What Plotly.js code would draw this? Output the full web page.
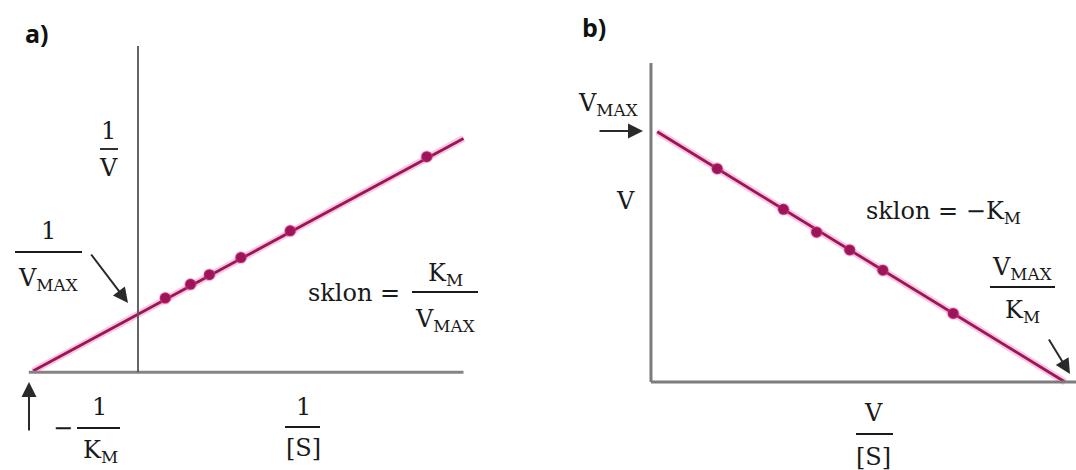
<!DOCTYPE html>
<html>
<head>
<meta charset="utf-8">
<script src="https://cdn.plot.ly/plotly-3.0.1.min.js"></script>
<style>
  html, body { margin: 0; padding: 0; background: #ffffff; }
  #chart { width: 1076px; height: 470px; }
</style>
</head>
<body>
<div id="chart"></div>
<script>
// a) Lineweaver–Burk plot: 1/V against 1/[S]
const lbInvS = [0.26, 0.50, 0.68, 0.98, 1.45, 2.75];
const lbInvV = [1.28, 1.52, 1.69, 1.99, 2.46, 3.76];
const lbFitX = [-1, 3.1];
const lbFitY = [0, 4.08];

// b) Eadie–Hofstee plot: V against V/[S]
const ehVoverS = [0.16, 0.32, 0.40, 0.48, 0.56, 0.73];
const ehV = [0.84, 0.68, 0.59, 0.52, 0.44, 0.27];
const ehFitX = [0.015, 1.0];
const ehFitY = [0.985, 0.0];

const W = 1076, H = 470;
const px = x => x / W;
const py = y => 1 - y / H;

const lineColor = '#9c1558';
const glowColor = 'rgba(236, 70, 160, 0.3)';
const serif = 'DejaVu Serif, Liberation Serif, serif';
const txt = '#1a1a1a';

function fitTraces(x, y, xa, ya) {
  return [
    { x, y, xaxis: xa, yaxis: ya, type: 'scatter', mode: 'lines',
      line: { color: glowColor, width: 7 }, hoverinfo: 'skip', showlegend: false },
    { x, y, xaxis: xa, yaxis: ya, type: 'scatter', mode: 'lines',
      line: { color: lineColor, width: 2.8 }, hoverinfo: 'skip', showlegend: false }
  ];
}
function pointTrace(x, y, xa, ya) {
  return { x, y, xaxis: xa, yaxis: ya, type: 'scatter', mode: 'markers',
    marker: { color: lineColor, size: 11, line: { color: glowColor, width: 2 } },
    showlegend: false };
}

const data = [
  ...fitTraces(lbFitX, lbFitY, 'x', 'y'),
  pointTrace(lbInvS, lbInvV, 'x', 'y'),
  ...fitTraces(ehFitX, ehFitY, 'x2', 'y2'),
  pointTrace(ehVoverS, ehV, 'x2', 'y2')
];

const hidden = { showgrid: false, zeroline: false, showticklabels: false, ticks: '',
  showline: false, fixedrange: true };

// text label helper (pixel positions on the page)
function label(text, x, y, opts = {}) {
  return Object.assign({
    text, xref: 'paper', yref: 'paper', x: px(x), y: py(y),
    xanchor: 'center', yanchor: 'middle', showarrow: false,
    font: { family: serif, size: 24, color: txt }
  }, opts);
}
function arrow(hx, hy, tx, ty) {
  return {
    text: '', xref: 'paper', yref: 'paper', x: px(hx), y: py(hy),
    ax: tx - hx, ay: ty - hy, showarrow: true,
    arrowhead: 2, arrowsize: 1.5, arrowwidth: 2, arrowcolor: '#2a2a2a'
  };
}
function bar(x0, x1, y) {
  return { type: 'line', xref: 'paper', yref: 'paper',
    x0: px(x0), x1: px(x1), y0: py(y), y1: py(y),
    line: { color: txt, width: 1.8 } };
}

const letterFont = { family: 'Open Sans, DejaVu Sans, sans-serif', size: 25, color: '#111', weight: 800 };

const annotations = [
  // panel letters
  label('<b>a)</b>', 37, 33, { font: letterFont }),
  label('<b>b)</b>', 594, 27, { font: letterFont }),

  // a) 1/V
  label('1', 109, 131),
  label('V', 109, 168),
  // a) 1/VMAX
  label('1', 48, 231),
  label('V<sub>MAX</sub>', 48, 279),
  // a) −1/KM
  label('−', 63, 428),
  label('1', 99, 407),
  label('K<sub>M</sub>', 100, 451),
  // a) 1/[S]
  label('1', 303, 407),
  label('[S]', 303, 448),
  // a) slope
  label('sklon =', 402, 293, { xanchor: 'right' }),
  label('K<sub>M</sub>', 445, 274),
  label('V<sub>MAX</sub>', 445, 320),

  // b) VMAX, V
  label('V<sub>MAX</sub>', 608, 104),
  label('V', 625, 201),
  // b) slope
  label('sklon = −K<sub>M</sub>', 864, 212, { xanchor: 'left' }),
  // b) VMAX/KM
  label('V<sub>MAX</sub>', 1022, 268),
  label('K<sub>M</sub>', 1022, 311),
  // b) V/[S]
  label('V', 873, 413),
  label('[S]', 873, 457),

  // arrows
  arrow(128, 303, 90, 253),
  arrow(29, 382, 29, 432),
  arrow(643, 131, 598, 131),
  arrow(1070, 374, 1048, 338)
];

const shapes = [
  // a) axes
  { type: 'line', xref: 'x', yref: 'y', x0: -1.04, x1: 3.1, y0: -0.02, y1: -0.02,
    line: { color: '#858585', width: 3 } },
  { type: 'line', xref: 'x', yref: 'y', x0: 0, x1: 0, y0: -0.02, y1: 5.7,
    line: { color: '#555555', width: 1.8 } },
  // b) axes
  { type: 'line', xref: 'x2', yref: 'y2', x0: 0, x1: 1.03, y0: 0, y1: 0,
    line: { color: '#7c7c7c', width: 3 } },
  { type: 'line', xref: 'x2', yref: 'y2', x0: 0, x1: 0, y0: 0, y1: 1.256,
    line: { color: '#7c7c7c', width: 3 } },
  // fraction bars
  bar(100, 118, 149),
  bar(15, 82, 252),
  bar(77, 120, 428),
  bar(285, 320, 427),
  bar(412, 478, 292),
  bar(990, 1055, 287),
  bar(856, 893, 434)
];

const layout = {
  width: W, height: H,
  margin: { l: 0, r: 0, t: 0, b: 0 },
  paper_bgcolor: '#ffffff', plot_bgcolor: '#ffffff',
  showlegend: false,
  xaxis: Object.assign({ domain: [0, 0.5], range: [-1.3143, 3.8095] }, hidden),
  yaxis: Object.assign({ domain: [0, 1], range: [-1.737, 6.509] }, hidden),
  xaxis2: Object.assign({ domain: [0.5, 1], range: [-0.2729, 1.0266], anchor: 'y2' }, hidden),
  yaxis2: Object.assign({ domain: [0, 1], range: [-0.3465, 1.5039], anchor: 'x2' }, hidden),
  shapes, annotations
};

Plotly.newPlot('chart', data, layout, { displayModeBar: false, staticPlot: true });
</script>
</body>
</html>
